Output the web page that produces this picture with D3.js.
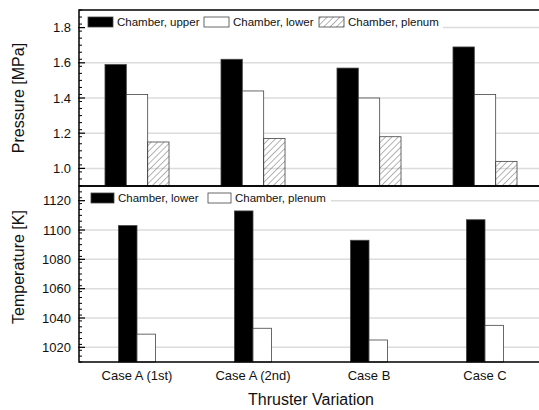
<!DOCTYPE html>
<html>
<head>
<meta charset="utf-8">
<script src="https://cdn.jsdelivr.net/npm/d3@7/dist/d3.min.js"></script>
<style>
  html, body { margin: 0; padding: 0; background: #fff; }
  svg { display: block; font-family: "Liberation Sans", Arial, sans-serif; }
</style>
</head>
<body>
<div id="chart"></div>
<script>
// Categories and values
var cases = ['Case A (1st)', 'Case A (2nd)', 'Case B', 'Case C'];

var pressureSeries = ['Chamber, upper', 'Chamber, lower', 'Chamber, plenum'];
var pressureUpper = [1.59, 1.62, 1.57, 1.69];
var pressureLower = [1.42, 1.44, 1.40, 1.42];
var pressurePlenum = [1.15, 1.17, 1.18, 1.04];
var pressureTicks = [1.0, 1.2, 1.4, 1.6, 1.8];

var tempSeries = ['Chamber, lower', 'Chamber, plenum'];
var tempLower = [1103, 1113, 1093, 1107];
var tempPlenum = [1029, 1033, 1025, 1035];
var tempTicks = [1020, 1040, 1060, 1080, 1100, 1120];

var W = 539, H = 410;
var left = 79, right = 543;

var svg = d3.select('#chart').append('svg')
    .attr('width', W)
    .attr('height', H);

// diagonal hatch
var defs = svg.append('defs');
defs.append('pattern')
    .attr('id', 'hatch')
    .attr('patternUnits', 'userSpaceOnUse')
    .attr('width', 4.5)
    .attr('height', 4.5)
    .attr('patternTransform', 'rotate(45)')
  .append('line')
    .attr('x1', 0).attr('y1', 0)
    .attr('x2', 0).attr('y2', 4.5)
    .attr('stroke', '#444')
    .attr('stroke-width', 0.8);

var fills = { black: '#000', white: '#fff', hatch: 'url(#hatch)' };

function panel(opts) {
    var y = d3.scaleLinear().domain(opts.domain).range([opts.bottom, opts.top]);
    var x0 = d3.scaleBand().domain(cases).range([left, right])
        .paddingInner(opts.pad).paddingOuter(opts.pad / 2);
    var x1 = d3.scaleBand().domain(opts.series).range([0, x0.bandwidth()]);

    var g = svg.append('g');

    // gridlines
    g.selectAll('.grid')
        .data(opts.ticks)
        .enter().append('line')
        .attr('x1', left).attr('x2', right)
        .attr('y1', function(d) { return y(d); })
        .attr('y2', function(d) { return y(d); })
        .attr('stroke', '#dcdcdc')
        .attr('stroke-width', 1.5);

    // legend background hides gridlines
    g.append('rect')
        .attr('x', opts.legend.x0)
        .attr('y', opts.legend.y - 6)
        .attr('width', opts.legend.x1 - opts.legend.x0)
        .attr('height', 22)
        .attr('fill', '#fff');

    opts.series.forEach(function(s, i) {
        var lx = opts.legend.xs[i];
        g.append('rect')
            .attr('x', lx).attr('y', opts.legend.y)
            .attr('width', opts.legend.sw).attr('height', 10)
            .attr('fill', fills[opts.styles[i]])
            .attr('stroke', '#444')
            .attr('stroke-width', 0.8);
        g.append('text')
            .attr('x', lx + opts.legend.sw + 4)
            .attr('y', opts.legend.y + 9)
            .attr('font-size', '11.5px')
            .attr('fill', '#111')
            .text(s);
    });

    // bars
    opts.series.forEach(function(s, i) {
        g.selectAll('.bar' + i)
            .data(opts.values[i])
            .enter().append('rect')
            .attr('x', function(d, j) { return x0(cases[j]) + x1(s); })
            .attr('y', function(d) { return y(d); })
            .attr('width', x1.bandwidth())
            .attr('height', function(d) { return opts.bottom - y(d); })
            .attr('fill', fills[opts.styles[i]])
            .attr('stroke', '#444')
            .attr('stroke-width', 0.8);
    });

    // left axis with inward ticks
    var minor = d3.range(opts.domain[0], opts.domain[1] + 1e-9, opts.minorStep);
    g.selectAll('.minor')
        .data(minor)
        .enter().append('line')
        .attr('x1', left).attr('x2', left + 3)
        .attr('y1', function(d) { return y(d); })
        .attr('y2', function(d) { return y(d); })
        .attr('stroke', '#000')
        .attr('stroke-width', 1);
    g.selectAll('.major')
        .data(opts.ticks)
        .enter().append('line')
        .attr('x1', left - 1).attr('x2', left + 6)
        .attr('y1', function(d) { return y(d); })
        .attr('y2', function(d) { return y(d); })
        .attr('stroke', '#000')
        .attr('stroke-width', 1.2);
    g.selectAll('.tlabel')
        .data(opts.ticks)
        .enter().append('text')
        .attr('x', left - 8)
        .attr('y', function(d) { return y(d); })
        .attr('dy', '0.35em')
        .attr('text-anchor', 'end')
        .attr('font-size', '13px')
        .attr('fill', '#111')
        .text(opts.format);

    // frame
    g.append('path')
        .attr('d', 'M' + right + ',' + opts.top + 'H' + left + 'V' + opts.bottom + 'H' + right)
        .attr('fill', 'none')
        .attr('stroke', '#000')
        .attr('stroke-width', 1.5);

    // y title
    g.append('text')
        .attr('transform', 'translate(' + opts.titleX + ',' + opts.titleY + ') rotate(-90)')
        .attr('text-anchor', 'middle')
        .attr('dy', '0.35em')
        .attr('font-size', '16px')
        .attr('fill', '#111')
        .text(opts.title);

    return x0;
}

panel({
    top: 10, bottom: 186,
    domain: [0.9, 1.9], ticks: pressureTicks, minorStep: 0.04,
    format: d3.format('.1f'),
    series: pressureSeries,
    values: [pressureUpper, pressureLower, pressurePlenum],
    styles: ['black', 'white', 'hatch'],
    pad: 0.448,
    legend: { x0: 84, x1: 443, y: 17, sw: 25, xs: [88, 204, 319] },
    title: 'Pressure [MPa]', titleX: 18, titleY: 98
});

var x0 = panel({
    top: 186, bottom: 362,
    domain: [1010, 1130], ticks: tempTicks, minorStep: 4,
    format: d3.format('d'),
    series: tempSeries,
    values: [tempLower, tempPlenum],
    styles: ['black', 'white'],
    pad: 0.68,
    legend: { x0: 84, x1: 331, y: 193, sw: 23, xs: [91, 208] },
    title: 'Temperature [K]', titleX: 18, titleY: 267
});

// category labels
svg.selectAll('.cat')
    .data(cases)
    .enter().append('text')
    .attr('x', function(d) { return x0(d) + x0.bandwidth() / 2; })
    .attr('y', 375)
    .attr('dy', '0.35em')
    .attr('text-anchor', 'middle')
    .attr('font-size', '13px')
    .attr('fill', '#111')
    .text(function(d) { return d; });

svg.append('text')
    .attr('x', (left + right) / 2)
    .attr('y', 399)
    .attr('dy', '0.35em')
    .attr('text-anchor', 'middle')
    .attr('font-size', '16px')
    .attr('fill', '#111')
    .text('Thruster Variation');
</script>
</body>
</html>
